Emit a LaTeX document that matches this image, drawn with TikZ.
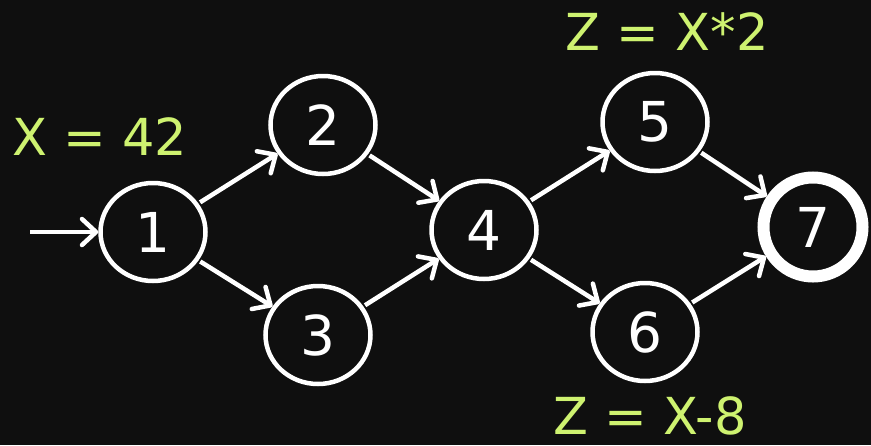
\documentclass[tikz,border=0pt]{standalone}
\usepackage{fontspec}
\setmainfont{DejaVu Sans}
\usetikzlibrary{shapes.geometric,arrows.meta}
\definecolor{bg}{RGB}{15,15,15}
\definecolor{lbl}{RGB}{206,242,112}
\tikzset{
  st/.style={ellipse,draw=white,line width=4.5pt,minimum width=105pt,minimum height=98pt,inner sep=0pt,text=white,font=\fontsize{55}{55}\selectfont},
  fin/.style={circle,draw=white,line width=12pt,minimum size=99pt,inner sep=0pt,text=white,font=\fontsize{55}{55}\selectfont},
  edge/.style={draw=white,line width=4.5pt,shorten <=2pt,-{Straight Barb[length=14pt,width=26pt,line width=4.5pt,round]}},
  lab/.style={text=lbl,font=\fontsize{51}{51}\selectfont,inner sep=0pt,text depth=0pt}
}
\begin{document}
\begin{tikzpicture}[x=1pt,y=-1pt]
\fill[bg] (0,0) rectangle (871,445);
\useasboundingbox (0,0) rectangle (871,445);
\node[st] (n1) at (153,232) {1};
\node[st] (n2) at (323,125) {2};
\node[st] (n3) at (318,335) {3};
\node[st] (n4) at (484,230) {4};
\node[st] (n5) at (655,122) {5};
\node[st] (n6) at (645,332) {6};
\node[fin] (n7) at (813,227) {7};
\coordinate (in) at (28,232);
\node[lab,anchor=base] (l1) at (100,155) {X = 42};
\node[lab,anchor=base] (l5) at (667,50) {Z = X*2};
\node[lab,anchor=base] (l6) at (650,434) {Z = X-8};
\draw[edge] (in) -- (n1);
\draw[edge] (n1) -- (n2);
\draw[edge] (n1) -- (n3);
\draw[edge] (n2) -- (n4);
\draw[edge] (n3) -- (n4);
\draw[edge] (n4) -- (n5);
\draw[edge] (n4) -- (n6);
\draw[edge] (n5) -- (n7);
\draw[edge] (n6) -- (n7);
\end{tikzpicture}
\end{document}
